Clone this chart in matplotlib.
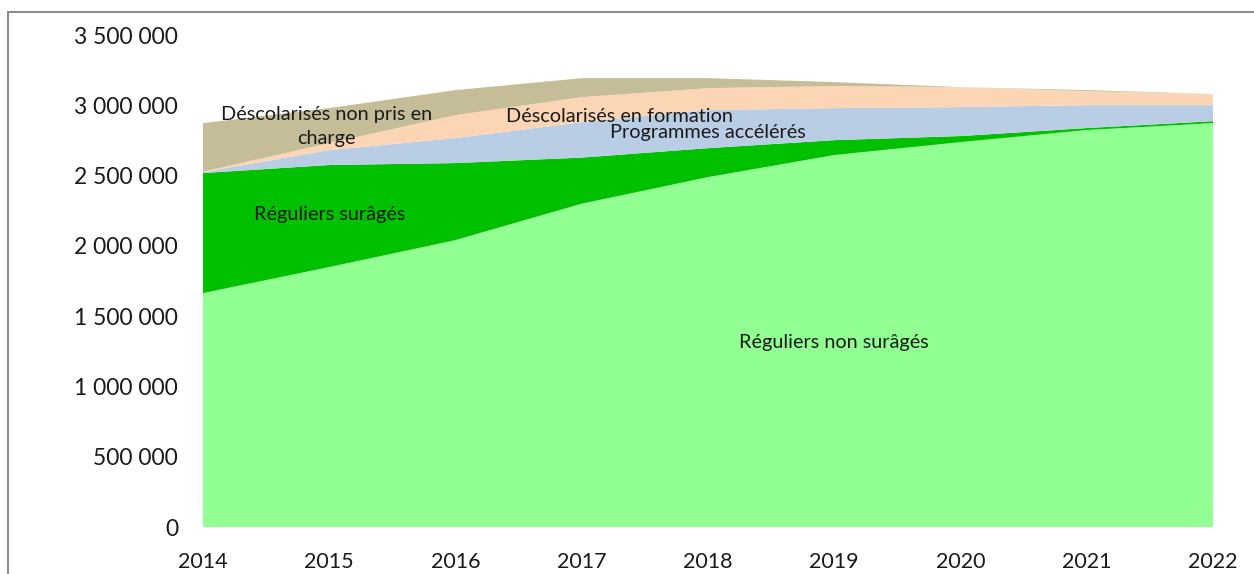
import matplotlib.pyplot as plt
import matplotlib.patches as patches
from matplotlib.ticker import FuncFormatter
import numpy as np

plt.rcParams['font.family'] = ['Lato', 'DejaVu Sans']

years = [2014, 2015, 2016, 2017, 2018, 2019, 2020, 2021, 2022]

# values (pupils)
reguliers_non_surages = [1664000, 1849000, 2041000, 2300000, 2489000, 2646000, 2738000, 2824000, 2873000]
reguliers_surages = [854000, 726000, 548000, 328000, 206000, 106000, 43000, 14000, 14000]
programmes_acceleres = [7000, 106000, 178000, 252000, 271000, 228000, 206000, 163000, 114000]
descolarises_formation = [3000, 50000, 163000, 178000, 156000, 157000, 142000, 100000, 79000]
descolarises_non_pris = [345000, 249000, 178000, 135000, 71000, 28000, 0, 7000, 0]

colors = ['#92FF92', '#00C000', '#B9CDE5', '#FCD5B5', '#C4BD97']

fig = plt.figure(figsize=(12.54, 5.74), dpi=100)

# grey frame of the original chart object
frame = patches.Rectangle((8 / 1254, -0.05), 1.1, (574 - 12) / 574 + 0.05,
                          transform=fig.transFigure, fill=False,
                          edgecolor='#8C8C8C', linewidth=1.5)
fig.patches.append(frame)

ax = fig.add_axes([203 / 1254, 1 - 527 / 574, (1213 - 203) / 1254, (527 - 35) / 574])

ax.stackplot(years, reguliers_non_surages, reguliers_surages, programmes_acceleres,
             descolarises_formation, descolarises_non_pris,
             colors=colors, linewidth=0)

ax.set_xlim(2014, 2022)
ax.set_ylim(0, 3500000)
ax.set_xticks(years)
ax.set_yticks(np.arange(0, 3500001, 500000))
ax.yaxis.set_major_formatter(FuncFormatter(lambda v, p: f"{int(v):,}".replace(",", " ")))

for s in ax.spines.values():
    s.set_visible(False)
ax.tick_params(axis='both', length=0, colors='#1a1a1a')
ax.tick_params(axis='y', pad=18, labelsize=16.5)
ax.tick_params(axis='x', pad=18, labelsize=15.5)

lab = dict(fontsize=14.3, color='#1a1a1a', ha='center', va='center')
ax.text(2014.98, 2850000, "Déscolarisés non pris en\ncharge", linespacing=1.55, **lab)
ax.text(2017.30, 2923000, "Déscolarisés en formation", **lab)
ax.text(2018.0, 2809000, "Programmes accélérés", **lab)
ax.text(2015.0, 2226000, "Réguliers surâgés", **lab)
ax.text(2019.0, 1309000, "Réguliers non surâgés", **lab)

fig.savefig("out.png", dpi=100)
